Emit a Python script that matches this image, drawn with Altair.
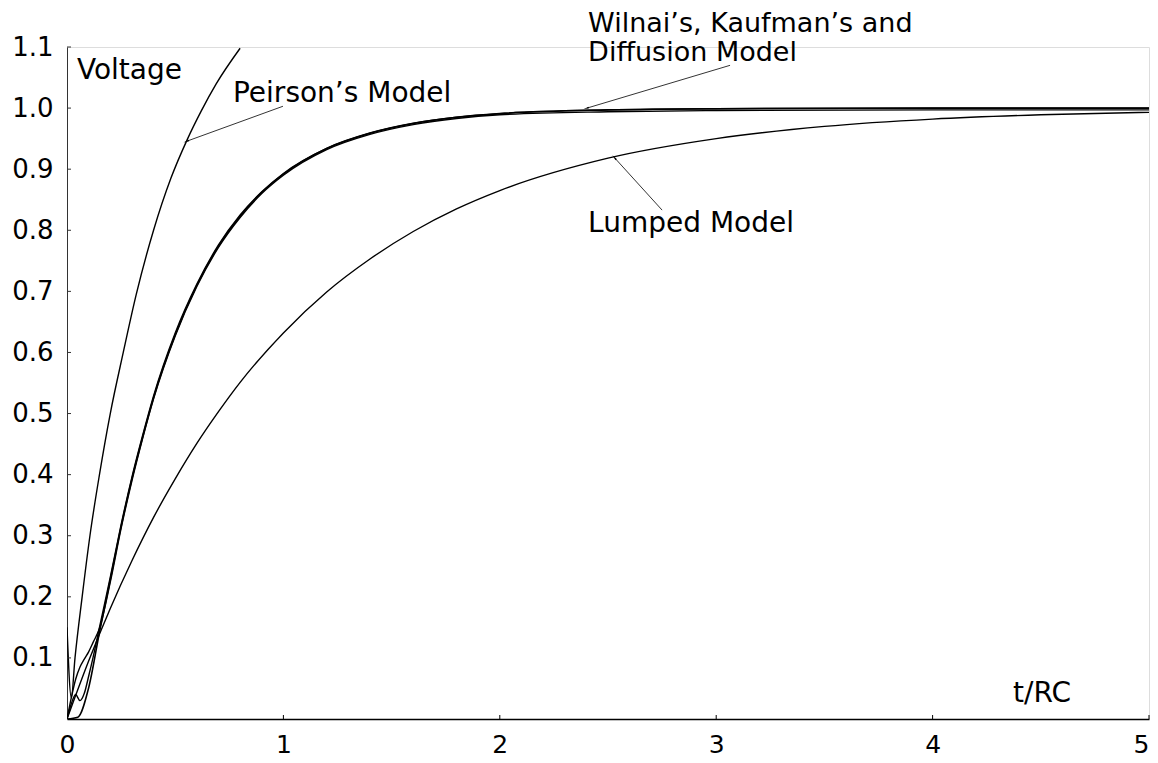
import math
import altair as alt
import pandas as pd

# ---------------- data ----------------
t_lumped = [0, 0.1, 0.2, 0.3, 0.4, 0.5, 0.6, 0.7, 0.8, 1.0, 1.2, 1.4, 1.6, 1.8,
            2.0, 2.5, 3.0, 3.5, 4.0, 4.5, 5.0]
v_lumped = [0, 0.095, 0.181, 0.259, 0.330, 0.393, 0.451, 0.503, 0.551, 0.632,
            0.699, 0.753, 0.798, 0.835, 0.865, 0.918, 0.950, 0.970, 0.982,
            0.989, 0.993]

t_diffusion = [0, 0.05, 0.1, 0.15, 0.2, 0.25, 0.3, 0.35, 0.4, 0.5, 0.6, 0.7,
               0.8, 0.9, 1.0, 1.2, 1.4, 1.6, 1.8, 2.0, 2.5, 3.0, 4.0, 5.0]
v_diffusion = [0, 0.003, 0.051, 0.142, 0.228, 0.315, 0.393, 0.462, 0.526,
               0.629, 0.710, 0.774, 0.823, 0.862, 0.892, 0.934, 0.959, 0.975,
               0.985, 0.991, 0.997, 0.999, 1.0, 1.0]

t_wilnai = [0, 0.02, 0.04, 0.06, 0.08, 0.1, 0.12, 0.15, 0.2, 0.25, 0.3, 0.35,
            0.4, 0.5, 0.6, 0.7, 0.8, 0.9, 1.0, 1.2, 1.4, 1.6, 1.8, 2.0, 2.5,
            3.0, 4.0, 5.0]
v_wilnai = [0, 0.025, 0.04, 0.03, 0.042, 0.07, 0.10, 0.15, 0.232, 0.318,
            0.396, 0.465, 0.529, 0.632, 0.712, 0.776, 0.825, 0.863, 0.893,
            0.934, 0.959, 0.975, 0.985, 0.991, 0.997, 0.999, 1.0, 1.0]

t_kaufman = [0, 0.02, 0.04, 0.06, 0.08, 0.1, 0.12, 0.15, 0.2, 0.25, 0.3, 0.35,
             0.4, 0.5, 0.6, 0.7, 0.8, 0.9, 1.0, 1.2, 1.4, 1.6, 1.8, 2.0, 2.5,
             3.0, 4.0, 5.0]
v_kaufman = [0, 0.035, 0.065, 0.085, 0.098, 0.11, 0.125, 0.148, 0.224, 0.312,
             0.390, 0.460, 0.524, 0.627, 0.708, 0.772, 0.821, 0.860, 0.890,
             0.932, 0.957, 0.973, 0.983, 0.989, 0.994, 0.996, 0.997, 0.997]

t_peirson = [0, 0.02, 0.037, 0.07, 0.106, 0.15, 0.2, 0.26, 0.32, 0.40, 0.48,
             0.555, 0.62, 0.69, 0.80]
v_peirson = [0.15, 0.035, 0.10, 0.20, 0.30, 0.40, 0.50, 0.60, 0.695, 0.80,
             0.885, 0.948, 0.995, 1.04, 1.098]

x_ticks = [0, 1, 2, 3, 4, 5]
y_ticks = [0.1, 0.2, 0.3, 0.4, 0.5, 0.6, 0.7, 0.8, 0.9, 1.0, 1.1]

label_text = ["Voltage", "Peirson\u2019s Model", "Wilnai\u2019s, Kaufman\u2019s and",
              "Diffusion Model", "Lumped Model", "t/RC"]
label_t = [0.046, 0.767, 2.408, 2.408, 2.408, 4.372]
label_v = [1.047, 1.010, 1.1244, 1.0769, 0.797, 0.028]
label_size = [28, 28, 27, 27, 28, 28]

arrow_t1 = [0.998, 3.064, 2.750]
arrow_v1 = [1.003, 1.070, 0.833]
arrow_t2 = [0.555, 2.403, 2.532]
arrow_v2 = [0.946, 1.000, 0.918]

# ---------------- layout ----------------
W, H = 1082, 672
FONT = "DejaVu Sans"
px_t = W / 5.0
px_v = H / 1.1

series = [
    ("Lumped", t_lumped, v_lumped, 1.4),
    ("Diffusion", t_diffusion, v_diffusion, 1.6),
    ("Wilnai", t_wilnai, v_wilnai, 1.4),
    ("Kaufman", t_kaufman, v_kaufman, 1.4),
    ("Peirson", t_peirson, v_peirson, 1.4),
]
rows = []
for name, ts, vs, sw in series:
    for t, v in zip(ts, vs):
        rows.append({"series": name, "t": t, "v": v, "sw": sw})
lines_df = pd.DataFrame(rows)

labels_df = pd.DataFrame({"text": label_text, "t": label_t, "v": label_v,
                          "size": label_size})

ang = []
for a, b, c, d in zip(arrow_t1, arrow_v1, arrow_t2, arrow_v2):
    dx = (c - a) * px_t
    dy = -(d - b) * px_v
    ang.append(math.degrees(math.atan2(dx, -dy)) % 360)
arrows_df = pd.DataFrame({"t1": arrow_t1, "v1": arrow_v1, "t2": arrow_t2,
                          "v2": arrow_v2, "angle": ang})

xticks_df = pd.DataFrame({"t": x_ticks[1:]})
yticks_df = pd.DataFrame({"v": y_ticks})

xscale = alt.Scale(domain=[0, 5], nice=False, zero=False)
yscale = alt.Scale(domain=[0, 1.1], nice=False, zero=False)

x_axis = alt.Axis(values=x_ticks, format="d", ticks=False, grid=False,
                  domainColor="black", domainWidth=1.5, labelFont=FONT,
                  labelFontSize=25, labelColor="black", labelPadding=13,
                  labelAlign={"condition": {"test": "datum.value == 5", "value": "right"},
                              "value": "center"},
                  title=None)
y_axis = alt.Axis(values=y_ticks, format=".1f", ticks=False, grid=False,
                  domainColor="#333333", domainWidth=1, labelFont=FONT,
                  labelFontSize=26, labelColor="black", labelPadding=14,
                  title=None)

base_x = alt.X("t:Q", scale=xscale, axis=x_axis)
base_y = alt.Y("v:Q", scale=yscale, axis=y_axis)

lines = alt.Chart(lines_df).mark_line(color="black", interpolate="monotone",
                                      clip=True).encode(
    x=base_x, y=base_y, detail="series:N",
    strokeWidth=alt.StrokeWidth("sw:Q", scale=None),
)

ytick_marks = alt.Chart(yticks_df).mark_rule(color="#333333", strokeWidth=1).encode(
    y=alt.Y("v:Q", scale=yscale), x=alt.value(0), x2=alt.value(4)
)
xtick_marks = alt.Chart(xticks_df).mark_rule(color="black", strokeWidth=1).encode(
    x=alt.X("t:Q", scale=xscale), y=alt.value(H), y2=alt.value(H - 4)
)

arrow_lines = alt.Chart(arrows_df).mark_rule(color="black", strokeWidth=0.8).encode(
    x=alt.X("t1:Q", scale=xscale), y=alt.Y("v1:Q", scale=yscale),
    x2="t2:Q", y2="v2:Q",
)
arrow_heads = alt.Chart(arrows_df).mark_point(shape="wedge", filled=True,
                                              color="black", size=45,
                                              opacity=1).encode(
    x=alt.X("t2:Q", scale=xscale), y=alt.Y("v2:Q", scale=yscale),
    angle=alt.Angle("angle:Q", scale=None),
)

texts = alt.Chart(labels_df).mark_text(align="left", baseline="alphabetic",
                                       font=FONT, color="black").encode(
    x=alt.X("t:Q", scale=xscale), y=alt.Y("v:Q", scale=yscale), text="text:N",
    size=alt.Size("size:Q", scale=None),
)

chart = alt.layer(lines, ytick_marks, xtick_marks, arrow_lines, arrow_heads,
                  texts).properties(
    width=W, height=H,
    autosize=alt.AutoSizeParams(type="none"),
    padding={"left": 59, "top": 39, "right": 1, "bottom": 40},
).configure_view(stroke=None).configure(background="white")

chart.save("out.html", embed_options={"renderer": "svg", "actions": False})
